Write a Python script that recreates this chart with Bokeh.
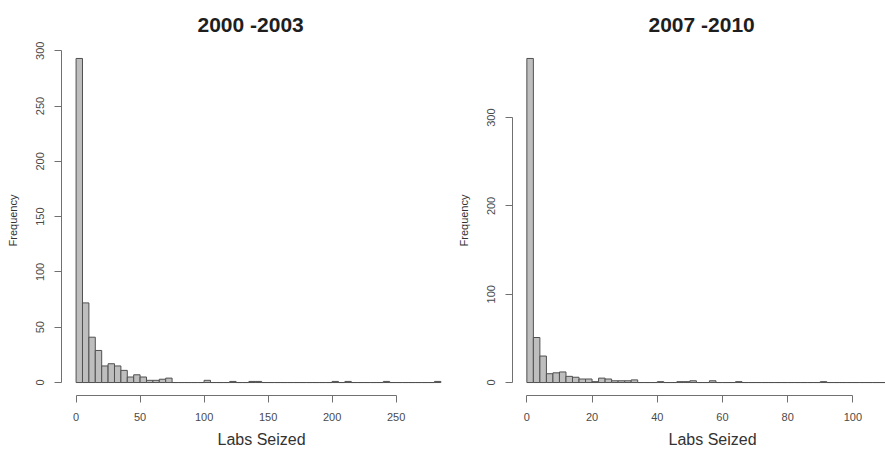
import numpy as np
from bokeh.plotting import figure
from bokeh.layouts import row
from bokeh.models import FixedTicker, Range1d, Title
from bokeh.embed import file_html
from bokeh.resources import INLINE

# ---------------- data ----------------
left_title = "2000 -2003"
right_title = "2007 -2010"
x_label = "Labs Seized"
y_label = "Frequency"

left_bin_start = 0
left_bin_width = 5
left_counts = [293, 72, 41, 29, 15, 17, 15, 11, 5, 7, 5, 2, 2, 3, 4,   # 0-75
               0, 0, 0, 0, 0,       # 75-100
               2, 0, 0, 0, 1,       # 100-125
               0, 0, 1, 1, 0,       # 125-150
               0, 0, 0, 0, 0,       # 150-175
               0, 0, 0, 0, 0,       # 175-200
               1, 0, 1, 0, 0,       # 200-225
               0, 0, 0, 1, 0,       # 225-250
               0, 0, 0, 0, 0,       # 250-275
               0, 1]                # 275-285
left_x_ticks = [0, 50, 100, 150, 200, 250]
left_y_ticks = [0, 50, 100, 150, 200, 250, 300]

right_bin_start = 0
right_bin_width = 2
right_counts = [367, 51, 30, 10, 11, 12, 7, 6, 4, 4,   # 0-20
                1, 5, 4, 2, 2, 2, 3, 0, 0, 0,          # 20-40
                1, 0, 0, 1, 1, 2, 0, 0, 2, 0,          # 40-60
                0, 0, 1, 0, 0, 0, 0, 0, 0, 0,          # 60-80
                0, 0, 0, 0, 0, 1, 0, 0, 0, 0,          # 80-100
                0, 0, 0, 0, 0]                         # 100-110
right_x_ticks = [0, 20, 40, 60, 80, 100]
right_y_ticks = [0, 100, 200, 300]

FONT = "Liberation Sans"


def make_panel(counts, start, bw, title, xticks, yticks, xr, yr, width, border_left):
    edges = start + np.arange(len(counts) + 1) * bw
    p = figure(width=width, height=452, x_range=Range1d(*xr), y_range=Range1d(*yr),
               output_backend="svg", toolbar_location=None,
               min_border_left=border_left, min_border_right=0,
               min_border_top=44, min_border_bottom=56)
    p.quad(left=edges[:-1], right=edges[1:], bottom=0, top=counts,
           fill_color="#bebebe", line_color="#505050", line_width=1)
    p.xgrid.visible = False
    p.ygrid.visible = False
    p.outline_line_color = None
    p.background_fill_color = "white"
    p.border_fill_color = "white"

    p.title.text = title
    p.title.align = "left"
    p.title.offset = 136
    p.title.text_font = FONT
    p.title.text_font_size = "21px"
    p.title.text_font_style = "bold"
    p.title.text_color = "#1e1e1e"
    p.title.standoff = 20

    for ax, ticks in ((p.xaxis[0], xticks), (p.yaxis[0], yticks)):
        ax.ticker = FixedTicker(ticks=ticks)
        ax.bounds = (ticks[0], ticks[-1])
        ax.major_tick_out = 7
        ax.major_tick_in = 0
        ax.minor_tick_line_color = None
        ax.axis_line_color = "#707070"
        ax.major_tick_line_color = "#707070"
        ax.major_label_text_font = FONT
        ax.major_label_text_font_size = "11px"
        ax.major_label_text_color = "#4a4a4a"
        ax.major_label_standoff = 10
        ax.axis_label_text_font = FONT
        ax.axis_label_text_font_style = "normal"
        ax.axis_label_text_color = "#333333"

    p.yaxis.axis_label = y_label
    p.yaxis.axis_label_text_font_size = "11px"
    p.yaxis.axis_label_standoff = 15
    p.yaxis.major_label_orientation = "vertical"

    xl = Title(text=x_label, align="left", offset=156, standoff=10,
               text_font=FONT, text_font_size="16px", text_font_style="normal",
               text_color="#333333")
    p.add_layout(xl, "below")
    return p


# left: frame 384 px wide at 1.28 px/unit; right: frame 373 px at 3.26 px/unit
p1 = make_panel(left_counts, left_bin_start, left_bin_width, left_title,
                left_x_ticks, left_y_ticks, (-11.4, 288.6), (-11.72, 304.72), 445, 61)
p2 = make_panel(right_counts, right_bin_start, right_bin_width, right_title,
                right_x_ticks, right_y_ticks, (-4.4, 110.0), (-14.68, 381.68), 440, 67)

layout = row(p1, p2)
open("out.html", "w").write(file_html(layout, INLINE))
